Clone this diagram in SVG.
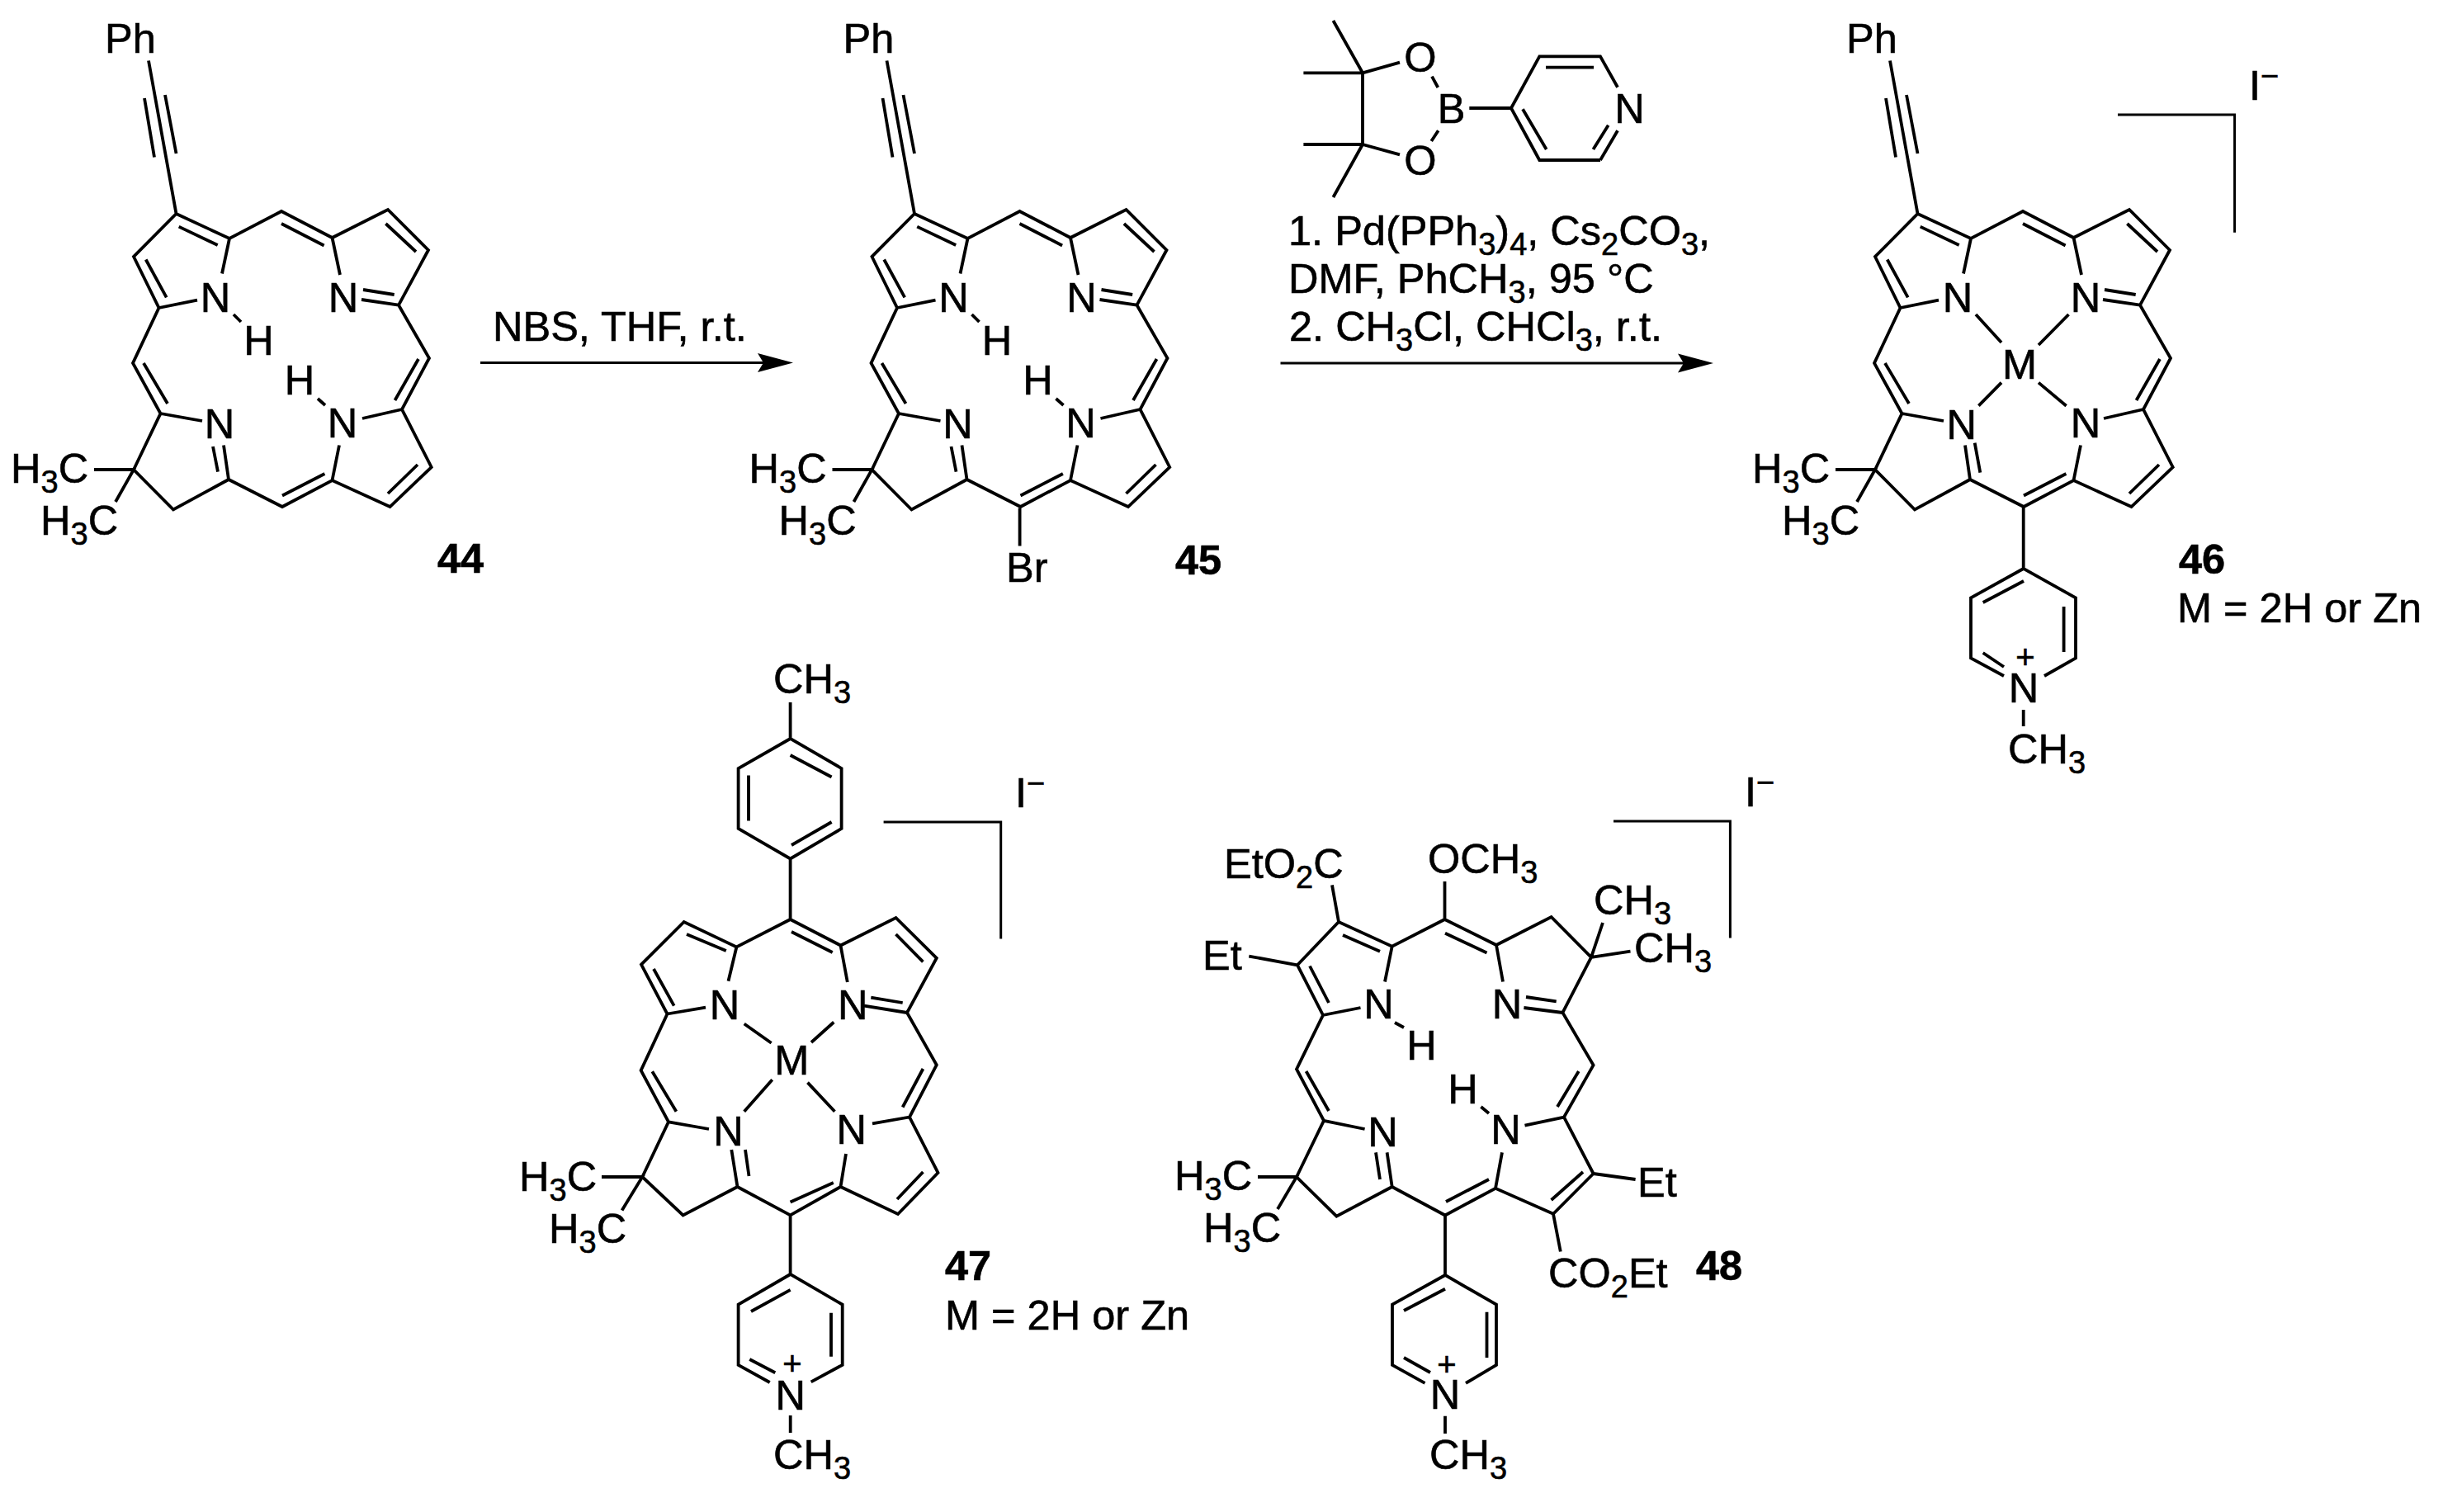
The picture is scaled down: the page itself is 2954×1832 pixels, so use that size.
<svg xmlns="http://www.w3.org/2000/svg" width="2954" height="1832" viewBox="0 0 2954 1832">
<style>
text{font-family:"Liberation Sans",Arial,sans-serif;font-size:50.5px;fill:#000;stroke:#000;stroke-width:.6}
.m{text-anchor:middle}
.b{font-weight:bold}
.s{font-size:38px}
.p{font-size:40px}
.sup{font-size:38px}
.bond{fill:none;stroke:#000;stroke-width:3.8;stroke-linecap:butt;stroke-linejoin:miter}
.thin{fill:none;stroke:#000;stroke-width:3}
</style>
<defs>
<marker id="head" markerUnits="userSpaceOnUse" viewBox="0 -12 44 24" markerWidth="44" markerHeight="24" refX="8" refY="0" orient="auto"><path d="M0 -11.5L43 0L0 11.5L7 0Z" fill="#000"/></marker>
<path id="skeleton" class="bond" d="M180 73.5L213.5 259M175 119L187 190.5M200 115L213.5 186M213.5 259L278 289L341 256L402.5 288L470 254L519 303L483 369.6L520 434L487 496L522.7 566L472.5 614L402.5 582L342 614L277 581L210 617.5L162 569L194.5 501L161 440L192.5 373L162 311Z
M216.7 274.6L263.7 297M176.7 314.5L201.7 360.4M341 271L392.6 297.5M467.4 271L504 305M440 351L477.7 357M438 363L483 369.6M507 435L478.5 485M506 563L470 598M393.4 574L342 600.5M271 539.5L277 581M174 440L203 489
M278 289L269 331.5M192.5 373L239 363.6M402.5 288L412 333M194.5 501L245 510M487 496L439 507M402.5 582L411 539.5
M114 569L162 569L140 608"/>
</defs>

<g id="connectors">
<path class="thin" d="M582 439.6H926" marker-end="url(#head)"/>
<path class="thin" d="M1551.5 440H2041" marker-end="url(#head)"/>
</g>

<g id="compound-44">
<use href="#skeleton"/>
<path class="bond" d="M258 541L264 571.6M283 381L292 390M385 483L394 491"/>
<text x="127" y="64">Ph</text>
<text class="m" x="261" y="378">N</text><text class="m" x="416" y="378">N</text>
<text class="m" x="266" y="531">N</text><text class="m" x="415" y="530">N</text>
<text class="m" x="313.5" y="430">H</text><text class="m" x="363" y="478">H</text>
<text x="13" y="585">H<tspan class="s" dy="12">3</tspan><tspan dy="-12">C</tspan></text>
<text x="49" y="648">H<tspan class="s" dy="12">3</tspan><tspan dy="-12">C</tspan></text>
<text class="b" x="530" y="694">44</text>
</g>

<g id="label-arrow-1"><text x="597" y="413">NBS, THF, r.t.</text></g>

<g id="compound-45">
<use href="#skeleton" x="894.5"/>
<path class="bond" d="M1152.5 541L1158.5 571.6M1177.5 381L1186.5 390M1279.5 483L1288.5 491M1235.6 615.6V661.6"/>
<text x="1021.5" y="64">Ph</text>
<text class="m" x="1155.5" y="378">N</text><text class="m" x="1310.5" y="378">N</text>
<text class="m" x="1160.5" y="531">N</text><text class="m" x="1309.5" y="530">N</text>
<text class="m" x="1208" y="430">H</text><text class="m" x="1257.5" y="478">H</text>
<text x="907.5" y="585">H<tspan class="s" dy="12">3</tspan><tspan dy="-12">C</tspan></text>
<text x="943.5" y="648">H<tspan class="s" dy="12">3</tspan><tspan dy="-12">C</tspan></text>
<text x="1219" y="705">Br</text>
<text class="b" x="1424" y="695.5">45</text>
</g>

<g id="boronate-reagent">
<path class="bond" d="M1615.4 25L1651 88.3M1579.4 88.3H1651M1579.4 175H1651M1615.4 239L1651 175M1651 88.3V175M1651 88.3L1696 75.7M1651 175L1696 187.3M1735 92.7L1742.3 106M1742.7 158.3L1734.3 171M1780.3 131H1831L1865.3 68.3H1939L1960 105.7M1939 194L1960 158.3M1939 194H1865.3L1831 131M1873 81.7H1931M1845 132.3L1873.7 181M1930.4 181L1948.7 151.7"/>
<text class="m" x="1721" y="87">O</text>
<text class="m" x="1721" y="212">O</text>
<text class="m" x="1758.7" y="149">B</text>
<text class="m" x="1974.4" y="149">N</text>
</g>
<g id="label-arrow-2">
<text x="1561" y="297">1. Pd(PPh<tspan class="s" dy="12">3</tspan><tspan dy="-12">)</tspan><tspan class="s" dy="12">4</tspan><tspan dy="-12">, Cs</tspan><tspan class="s" dy="12">2</tspan><tspan dy="-12">CO</tspan><tspan class="s" dy="12">3</tspan><tspan dy="-12">,</tspan></text>
<text x="1561" y="355">DMF, PhCH<tspan class="s" dy="12">3</tspan><tspan dy="-12">, 95 °C</tspan></text>
<text x="1562" y="413">2. CH<tspan class="s" dy="12">3</tspan><tspan dy="-12">Cl, CHCl</tspan><tspan class="s" dy="12">3</tspan><tspan dy="-12">, r.t.</tspan></text>
</g>

<g id="compound-46">
<use href="#skeleton" x="2110"/>
<path class="bond" d="M2392.7 536.7L2399.3 572.7M2394 381L2425 415M2506.5 381L2470 418M2425 463.6L2397.4 491.7M2470 463.6L2503.6 491.7M2451.7 615V689L2515 724.4V797.3L2477 819M2451.7 689L2388 724.4V797.3L2428 819M2402.7 730L2452 704M2500.6 735V790M2402.7 791L2428 808M2451.7 860V880"/>
<path class="thin" d="M2566 139H2707.6V281.7"/>
<text x="2237" y="64">Ph</text>
<text class="m" x="2372" y="378">N</text><text class="m" x="2527" y="378">N</text>
<text class="m" x="2376.7" y="531.5">N</text><text class="m" x="2527" y="530">N</text>
<text class="m" x="2447" y="459">M</text>
<text x="2123" y="585">H<tspan class="s" dy="12">3</tspan><tspan dy="-12">C</tspan></text>
<text x="2159" y="648">H<tspan class="s" dy="12">3</tspan><tspan dy="-12">C</tspan></text>
<text class="m" x="2452" y="851">N</text>
<text class="m p" x="2454" y="810">+</text>
<text x="2433" y="925">CH<tspan class="s" dy="12">3</tspan></text>
<text x="2725" y="120.6">I<tspan class="sup" dy="-16">−</tspan></text>
<text class="b" x="2640" y="695">46</text>
<text x="2638" y="754.4">M = 2H or Zn</text>
</g>

<g id="compound-47">
<path class="bond" d="M957.6 851V895L1019.6 931V1004L957.6 1040.5L894.6 1004V931L957.6 895M957.6 915L1007.6 941.5M907 939.5V994.6M959 1024L1007.6 996M957.6 1040.5V1114
M957.6 1114L1018.5 1145.5L1085.5 1112L1134.8 1160.8L1099 1227L1134.8 1290.3L1102 1353.5L1136.5 1421L1088 1471L1018.5 1438L957.6 1472.4L893.5 1438L827.6 1472.4L778.3 1426L810 1359.4L776.6 1297L808.5 1228.5L777 1168.7L828.7 1117L892.4 1147.5Z
M959 1129L1008.7 1154M1085.5 1132L1118.4 1165.4M1118.4 1295L1093.7 1341.5M1118.4 1420L1087 1453M1009.8 1433L957.6 1456.4M819.4 1346.8L790.3 1298.3M816.7 1218.6L792 1174M832 1132L879.8 1152
M892.4 1147.5L882.5 1188.7M808.5 1228.5L855 1220.6M1018.5 1145.5L1026.8 1190M1099 1227L1047 1218.6M1055.3 1208.6L1093.7 1215M810 1359.4L859 1368M893.5 1438L886.3 1393M903 1393L907.5 1425M1102 1353.5L1057 1361.4M1018.5 1438L1025 1398
M901.7 1240.5L934.6 1263.8M1010.3 1238.5L983 1263M935.7 1308.3L901.7 1346.8M978.5 1311.6L1011.4 1346.8
M729 1426H778.3L753.6 1466.4M957.6 1472.4V1544L1020.7 1580.7V1653.8L982.7 1674.3M957.6 1544L894.6 1580.7V1653.8L932.7 1675M910 1589L957.6 1562.8M1007 1590.7V1643.8M908.3 1647L939.3 1663.3M957.7 1715V1736"/>
<path class="thin" d="M1070.6 996H1212.7V1137.5"/>
<text x="937" y="840">CH<tspan class="s" dy="12">3</tspan></text>
<text class="m" x="878" y="1235">N</text><text class="m" x="1033.3" y="1235">N</text>
<text class="m" x="882.5" y="1388">N</text><text class="m" x="1031.7" y="1386">N</text>
<text class="m" x="959.3" y="1301.6">M</text>
<text x="629" y="1443">H<tspan class="s" dy="12">3</tspan><tspan dy="-12">C</tspan></text>
<text x="665" y="1506">H<tspan class="s" dy="12">3</tspan><tspan dy="-12">C</tspan></text>
<text class="m" x="957.7" y="1707.7">N</text>
<text class="m p" x="960" y="1666">+</text>
<text x="937" y="1780">CH<tspan class="s" dy="12">3</tspan></text>
<text x="1230" y="978">I<tspan class="sup" dy="-16">−</tspan></text>
<text class="b" x="1145" y="1550.8">47</text>
<text x="1145" y="1610.6">M = 2H or Zn</text>
</g>

<g id="compound-48">
<path class="bond" d="M1750.5 1114L1813 1145L1879.6 1111L1928 1159.8L1893.4 1227L1930.6 1290.6L1895 1353.6L1930.6 1422L1882 1470.8L1812 1439.8L1751 1472.5L1686.7 1438L1619.4 1473.7L1571 1426L1604 1357.8L1571 1295.4L1603 1230L1572 1169.3L1622 1117L1686.7 1146.7Z
M1627 1133L1672 1152.7M1587 1170.5L1610 1215M1751 1130.7L1801.5 1154.5M1846.4 1221L1893.4 1227M1849 1208L1885.7 1213.3M1912.8 1298L1887 1341M1918 1420L1879.6 1454M1804 1429L1752 1456M1610 1346L1582.6 1298M1686.7 1438L1680.6 1396.4M1672 1429L1667 1396.4
M1690 1239L1701 1245M1794.4 1341L1804 1349M1686.7 1146.7L1678 1189.5M1603 1230L1648.5 1221M1813 1145L1821 1189.5M1604 1357.8L1653.6 1368M1895 1353.6L1847.5 1363.7M1812 1439.8L1820 1396.4
M1750.5 1114V1068M1622 1117L1614 1072.4M1572 1169.3L1513.3 1158.6M1930.6 1422L1981.6 1429M1882 1470.8L1890.8 1516.5M1942 1118L1928 1159.8L1975.5 1152.7M1524 1426H1571L1548 1465
M1751 1472.5V1545L1813 1580.7V1653.9L1776 1675.9M1751 1545L1687 1580.7V1653.9L1726.5 1675.9M1701 1588L1751 1561.7M1801.5 1589.7V1645M1701 1645L1733 1663M1751 1715.7V1737"/>
<path class="thin" d="M1955 995H2096.4V1136.6"/>
<text x="1483" y="1063.5">EtO<tspan class="s" dy="12">2</tspan><tspan dy="-12">C</tspan></text>
<text x="1730" y="1057.6">OCH<tspan class="s" dy="12">3</tspan></text>
<text x="1931" y="1108">CH<tspan class="s" dy="12">3</tspan></text>
<text x="1980" y="1165.8">CH<tspan class="s" dy="12">3</tspan></text>
<text x="1457" y="1174.7">Et</text>
<text x="1984" y="1450">Et</text>
<text x="1876" y="1560">CO<tspan class="s" dy="12">2</tspan><tspan dy="-12">Et</tspan></text>
<text class="m" x="1670.4" y="1234">N</text><text class="m" x="1826" y="1234">N</text>
<text class="m" x="1675.5" y="1388.7">N</text><text class="m" x="1824.5" y="1385.7">N</text>
<text class="m" x="1722.4" y="1283.5">H</text><text class="m" x="1772.4" y="1337">H</text>
<text x="1423" y="1442">H<tspan class="s" dy="12">3</tspan><tspan dy="-12">C</tspan></text>
<text x="1458" y="1505">H<tspan class="s" dy="12">3</tspan><tspan dy="-12">C</tspan></text>
<text class="m" x="1751" y="1706.8">N</text>
<text class="m p" x="1753" y="1667">+</text>
<text x="1732" y="1780">CH<tspan class="s" dy="12">3</tspan></text>
<text x="2114" y="977">I<tspan class="sup" dy="-16">−</tspan></text>
<text class="b" x="2055" y="1551">48</text>
</g>
</svg>
